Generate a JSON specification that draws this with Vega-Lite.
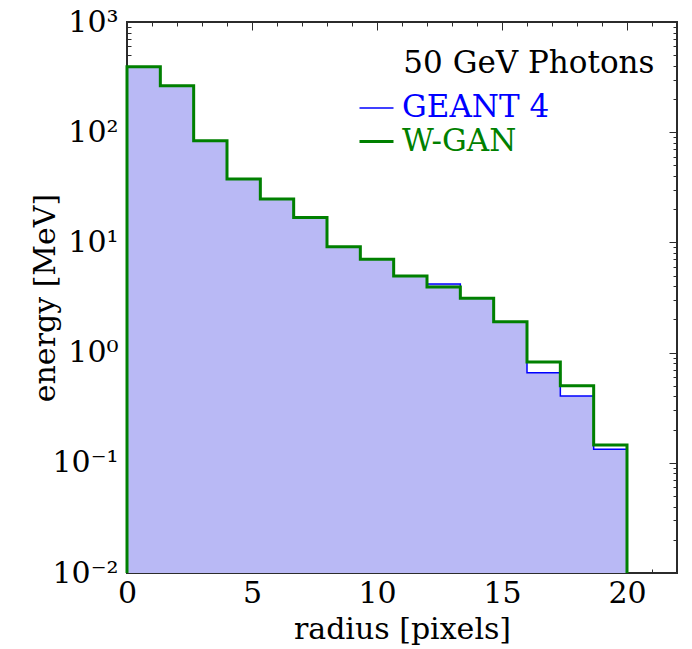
{
  "$schema": "https://vega.github.io/schema/vega-lite/v6.json",
  "width": 550,
  "height": 551,
  "autosize": {"type": "none"},
  "padding": {"left": 127, "top": 22, "right": 15, "bottom": 76},
  "background": "white",
  "config": {
    "font": "DejaVu Serif",
    "view": {"stroke": "#2b2b2b", "strokeWidth": 2},
    "axis": {
      "domain": false,
      "grid": false,
      "labelFont": "DejaVu Serif",
      "labelFontSize": 30,
      "labelColor": "black",
      "labelFlush": false,
      "labelOverlap": false,
      "titleFont": "DejaVu Serif",
      "titleFontSize": 30,
      "titleFontWeight": "normal",
      "titleColor": "black",
      "tickColor": "#2b2b2b",
      "tickWidth": 1
    },
    "legend": {
      "labelFont": "DejaVu Serif",
      "labelFontSize": 31,
      "symbolType": "stroke",
      "symbolSize": 1156,
      "labelOffset": 7,
      "padding": 0,
      "rowPadding": 0
    }
  },
  "data": {
    "values": [
      {"series": "GEANT 4", "i": 0, "r": 0, "energy": 0.01},
      {"series": "GEANT 4", "i": 1, "r": 0, "energy": 393},
      {"series": "GEANT 4", "i": 2, "r": 1.3333, "energy": 264},
      {"series": "GEANT 4", "i": 3, "r": 2.6667, "energy": 83.7},
      {"series": "GEANT 4", "i": 4, "r": 4, "energy": 37.6},
      {"series": "GEANT 4", "i": 5, "r": 5.3333, "energy": 24.8},
      {"series": "GEANT 4", "i": 6, "r": 6.6667, "energy": 16.8},
      {"series": "GEANT 4", "i": 7, "r": 8, "energy": 9.14},
      {"series": "GEANT 4", "i": 8, "r": 9.3333, "energy": 7.05},
      {"series": "GEANT 4", "i": 9, "r": 10.6667, "energy": 4.96},
      {"series": "GEANT 4", "i": 10, "r": 12, "energy": 4.2},
      {"series": "GEANT 4", "i": 11, "r": 13.3333, "energy": 3.11},
      {"series": "GEANT 4", "i": 12, "r": 14.6667, "energy": 1.91},
      {"series": "GEANT 4", "i": 13, "r": 16, "energy": 0.657},
      {"series": "GEANT 4", "i": 14, "r": 17.3333, "energy": 0.404},
      {"series": "GEANT 4", "i": 15, "r": 18.6667, "energy": 0.1325},
      {"series": "GEANT 4", "i": 16, "r": 20, "energy": 0.1325},
      {"series": "GEANT 4", "i": 17, "r": 20, "energy": 0.01},
      {"series": "W-GAN", "i": 0, "r": 0, "energy": 0.01},
      {"series": "W-GAN", "i": 1, "r": 0, "energy": 393},
      {"series": "W-GAN", "i": 2, "r": 1.3333, "energy": 264},
      {"series": "W-GAN", "i": 3, "r": 2.6667, "energy": 83.7},
      {"series": "W-GAN", "i": 4, "r": 4, "energy": 37.6},
      {"series": "W-GAN", "i": 5, "r": 5.3333, "energy": 24.8},
      {"series": "W-GAN", "i": 6, "r": 6.6667, "energy": 16.8},
      {"series": "W-GAN", "i": 7, "r": 8, "energy": 9.14},
      {"series": "W-GAN", "i": 8, "r": 9.3333, "energy": 7.05},
      {"series": "W-GAN", "i": 9, "r": 10.6667, "energy": 4.96},
      {"series": "W-GAN", "i": 10, "r": 12, "energy": 3.94},
      {"series": "W-GAN", "i": 11, "r": 13.3333, "energy": 3.11},
      {"series": "W-GAN", "i": 12, "r": 14.6667, "energy": 1.91},
      {"series": "W-GAN", "i": 13, "r": 16, "energy": 0.82},
      {"series": "W-GAN", "i": 14, "r": 17.3333, "energy": 0.5},
      {"series": "W-GAN", "i": 15, "r": 18.6667, "energy": 0.145},
      {"series": "W-GAN", "i": 16, "r": 20, "energy": 0.145},
      {"series": "W-GAN", "i": 17, "r": 20, "energy": 0.01}
    ]
  },
  "layer": [
    {
      "transform": [{"filter": "datum.series == 'GEANT 4' && datum.i > 0 && datum.i < 17"}],
      "mark": {"type": "area", "interpolate": "step-after", "fill": "#b9b9f5", "opacity": 1},
      "encoding": {
        "x": {
          "field": "r",
          "type": "quantitative",
          "scale": {"domain": [0, 22], "nice": false, "zero": false},
          "axis": {
            "orient": "bottom",
            "title": "radius [pixels]",
            "values": [0, 1, 2, 3, 4, 5, 6, 7, 8, 9, 10, 11, 12, 13, 14, 15, 16, 17, 18, 19, 20, 21, 22],
            "labelExpr": "datum.value % 5 == 0 ? datum.label : ''",
            "tickSize": {"condition": {"test": "datum.value % 5 == 0", "value": -8}, "value": -4},
            "labelPadding": 13,
            "titlePadding": 2
          }
        },
        "y": {
          "field": "energy",
          "type": "quantitative",
          "scale": {"type": "log", "domain": [0.01, 1000], "nice": false},
          "axis": {
            "orient": "left",
            "title": "energy [MeV]",
            "values": [0.01, 0.02, 0.03, 0.04, 0.05, 0.06, 0.07, 0.08, 0.09, 0.1, 0.2, 0.3, 0.4, 0.5, 0.6, 0.7, 0.8, 0.9, 1, 2, 3, 4, 5, 6, 7, 8, 9, 10, 20, 30, 40, 50, 60, 70, 80, 90, 100, 200, 300, 400, 500, 600, 700, 800, 900, 1000],
            "labelExpr": "datum.value == 0.01 ? '10⁻²' : datum.value == 0.1 ? '10⁻¹' : datum.value == 1 ? '10⁰' : datum.value == 10 ? '10¹' : datum.value == 100 ? '10²' : datum.value == 1000 ? '10³' : ''",
            "tickSize": {"condition": {"test": "indexof([0.01, 0.1, 1, 10, 100, 1000], datum.value) >= 0", "value": -8}, "value": -4},
            "labelPadding": 17,
            "titlePadding": -9
          }
        },
        "y2": {"datum": 0.01}
      }
    },
    {
      "mark": {"type": "line", "interpolate": "step-after"},
      "encoding": {
        "x": {
          "field": "r",
          "type": "quantitative",
          "axis": {
            "orient": "top",
            "title": null,
            "labels": false,
            "values": [0, 1, 2, 3, 4, 5, 6, 7, 8, 9, 10, 11, 12, 13, 14, 15, 16, 17, 18, 19, 20, 21, 22],
            "tickSize": {"condition": {"test": "datum.value % 5 == 0", "value": -8}, "value": -4}
          }
        },
        "y": {
          "field": "energy",
          "type": "quantitative",
          "axis": {
            "orient": "right",
            "title": null,
            "labels": false,
            "values": [0.01, 0.02, 0.03, 0.04, 0.05, 0.06, 0.07, 0.08, 0.09, 0.1, 0.2, 0.3, 0.4, 0.5, 0.6, 0.7, 0.8, 0.9, 1, 2, 3, 4, 5, 6, 7, 8, 9, 10, 20, 30, 40, 50, 60, 70, 80, 90, 100, 200, 300, 400, 500, 600, 700, 800, 900, 1000],
            "tickSize": {"condition": {"test": "indexof([0.01, 0.1, 1, 10, 100, 1000], datum.value) >= 0", "value": -8}, "value": -4}
          }
        },
        "color": {
          "field": "series",
          "type": "nominal",
          "scale": {"domain": ["GEANT 4", "W-GAN"], "range": ["blue", "green"]},
          "legend": {
            "title": null,
            "orient": "none",
            "legendX": 231,
            "legendY": 68,
            "encode": {
              "labels": {"update": {"fill": {"signal": "datum.value == 'GEANT 4' ? 'blue' : 'green'"}}},
              "symbols": {"update": {"strokeWidth": {"signal": "datum.value == 'GEANT 4' ? 1.5 : 3"}}}
            }
          }
        },
        "strokeWidth": {
          "field": "series",
          "type": "ordinal",
          "scale": {"domain": ["GEANT 4", "W-GAN"], "range": [1.5, 3]},
          "legend": null
        },
        "order": {"field": "i"}
      }
    },
    {
      "data": {"values": [{"label": "50 GeV Photons"}]},
      "mark": {"type": "text", "align": "right", "baseline": "middle", "fontSize": 31, "font": "DejaVu Serif", "color": "black"},
      "encoding": {
        "x": {"datum": 21.1, "type": "quantitative", "axis": null},
        "y": {"datum": 416, "type": "quantitative", "axis": null},
        "text": {"field": "label"}
      }
    }
  ],
  "resolve": {"axis": {"x": "independent", "y": "independent"}}
}
